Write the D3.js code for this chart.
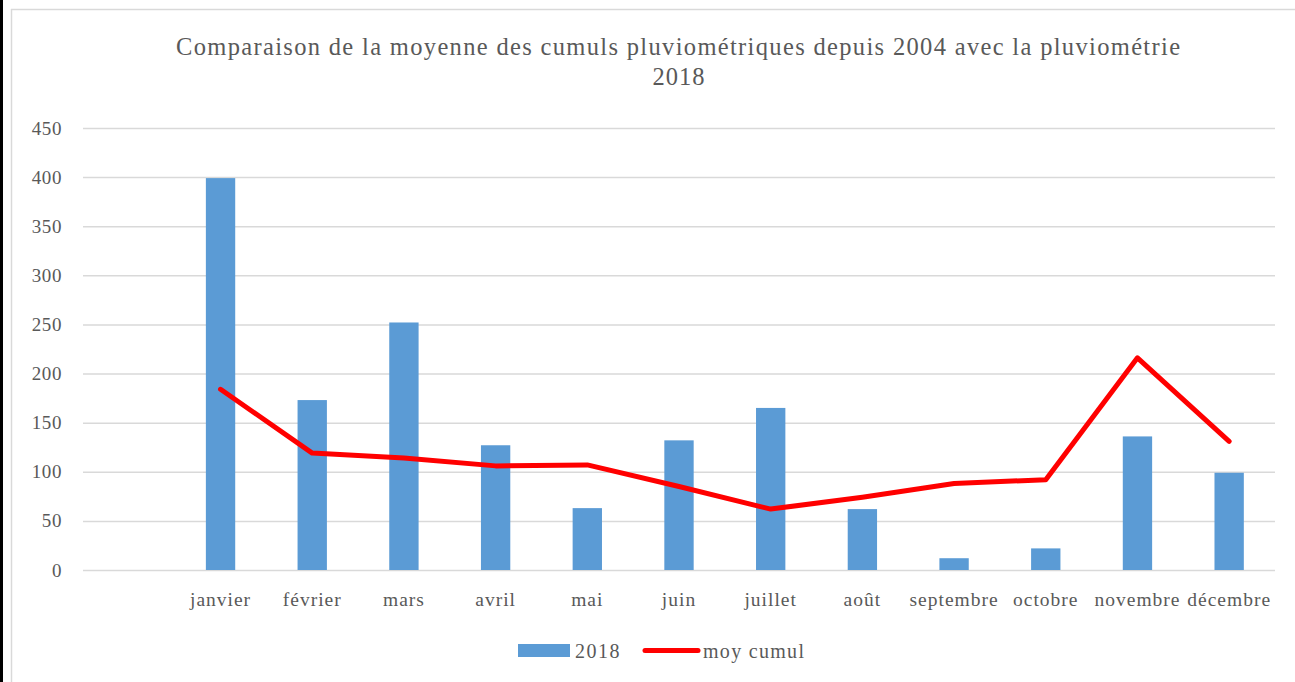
<!DOCTYPE html>
<html>
<head>
<meta charset="utf-8">
<script src="https://cdn.jsdelivr.net/npm/d3@7"></script>
<style>
    html, body { margin: 0; padding: 0; background: #fff; }
    svg text { font-family: "Liberation Serif", "DejaVu Serif", serif; fill: #595959; }
</style>
</head>
<body>
<div id="chart"></div>
<script>
// categories (first slot is empty in the original sheet)
var months = ["", "janvier", "février", "mars", "avril", "mai", "juin", "juillet", "août", "septembre", "octobre", "novembre", "décembre"];
var rain2018 = [null, 399, 173, 252, 127, 63, 132, 165, 62, 12, 22, 136, 99];
var moyCumul = [null, 184, 119, 114, 106, 107, 85, 62, 74, 88, 92, 216, 131];
var yTicks = [0, 50, 100, 150, 200, 250, 300, 350, 400, 450];

var W = 1295, H = 682;
var margin = { top: 128, right: 20, bottom: 112, left: 83 };
var plotW = 1275 - margin.left, plotH = 570 - margin.top;

var svg = d3.select("#chart").append("svg")
    .attr("width", W)
    .attr("height", H);

// frame
svg.append("rect").attr("x", 0).attr("y", 0).attr("width", W).attr("height", H).attr("fill", "#fff");
svg.append("line").attr("x1", 11.5).attr("x2", 11.5).attr("y1", 9).attr("y2", H).attr("stroke", "#d9d9d9").attr("stroke-width", 1.5);
svg.append("line").attr("x1", 11).attr("x2", W).attr("y1", 9.5).attr("y2", 9.5).attr("stroke", "#d9d9d9").attr("stroke-width", 1.5);
svg.append("rect").attr("x", 0).attr("y", 0).attr("width", 3).attr("height", H).attr("fill", "#000");

// title
svg.append("text")
    .attr("x", 678).attr("y", 55)
    .attr("text-anchor", "middle")
    .attr("textLength", 1004)
    .attr("lengthAdjust", "spacing")
    .style("font-size", "24.5px")
    .text("Comparaison de la moyenne des cumuls pluviométriques depuis 2004 avec la pluviométrie");
svg.append("text")
    .attr("x", 679).attr("y", 85)
    .attr("text-anchor", "middle")
    .style("font-size", "24.5px")
    .style("letter-spacing", "1px")
    .text("2018");

var g = svg.append("g").attr("transform", "translate(" + margin.left + "," + margin.top + ")");

var x = d3.scaleBand().domain(months.map(function (d, i) { return i; })).range([0, plotW]).paddingInner(0.68).paddingOuter(0.34);
var y = d3.scaleLinear().domain([0, 450]).range([plotH, 0]);

// gridlines
var yAxis = d3.axisLeft(y).tickValues(yTicks).tickSize(-plotW).tickPadding(21).tickFormat(d3.format("d"));
var ya = g.append("g").call(yAxis);
ya.select(".domain").remove();
ya.selectAll(".tick line").attr("stroke", "#d9d9d9").attr("stroke-width", 1.5);
ya.selectAll(".tick text").style("font-size", "19px").style("letter-spacing", "0.6px").attr("fill", "#595959");

// x axis labels
var xAxis = d3.axisBottom(x).tickSize(0).tickPadding(22).tickFormat(function (i) { return months[i]; });
var xa = g.append("g").attr("transform", "translate(0," + plotH + ")").call(xAxis);
xa.select(".domain").remove();
xa.selectAll(".tick text").style("font-size", "19.5px").style("letter-spacing", "1px").attr("fill", "#595959");

// bars
g.selectAll("rect.bar")
    .data(rain2018.map(function (v, i) { return { i: i, v: v }; }).filter(function (d) { return d.v != null; }))
    .enter().append("rect")
    .attr("class", "bar")
    .attr("x", function (d) { return x(d.i); })
    .attr("width", x.bandwidth())
    .attr("y", function (d) { return y(d.v); })
    .attr("height", function (d) { return plotH - y(d.v); })
    .attr("fill", "#5b9bd5");

// line
var line = d3.line()
    .defined(function (d) { return d.v != null; })
    .x(function (d) { return x(d.i) + x.bandwidth() / 2; })
    .y(function (d) { return y(d.v); });
g.append("path")
    .datum(moyCumul.map(function (v, i) { return { i: i, v: v }; }))
    .attr("d", line)
    .attr("fill", "none")
    .attr("stroke", "#ff0000")
    .attr("stroke-width", 5)
    .attr("stroke-linejoin", "round")
    .attr("stroke-linecap", "round");

// legend
var lg = svg.append("g");
lg.append("rect").attr("x", 518).attr("y", 644).attr("width", 52).attr("height", 13).attr("fill", "#5b9bd5");
lg.append("text").attr("x", 575).attr("y", 658).style("font-size", "20px").style("letter-spacing", "1.5px").text("2018");
lg.append("line").attr("x1", 645).attr("x2", 698).attr("y1", 650.5).attr("y2", 650.5)
    .attr("stroke", "#ff0000").attr("stroke-width", 5).attr("stroke-linecap", "round");
lg.append("text").attr("x", 703).attr("y", 658).style("font-size", "20px").style("letter-spacing", "1.3px").text("moy cumul");
</script>
</body>
</html>
